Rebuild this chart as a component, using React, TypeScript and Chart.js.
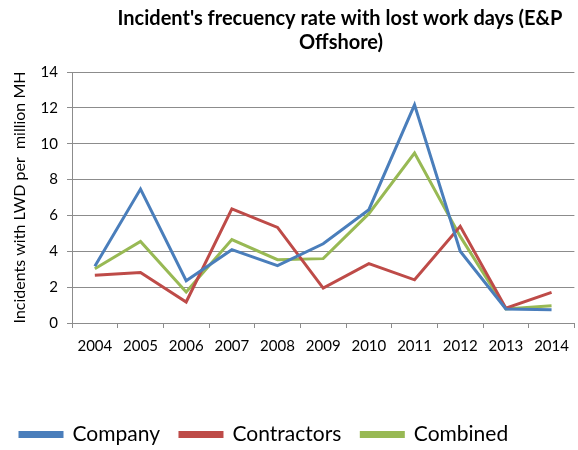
import React, { useEffect, useRef } from "react";
import { Chart, registerables } from "chart.js";

Chart.register(...registerables);

const years = ["2004", "2005", "2006", "2007", "2008", "2009", "2010", "2011", "2012", "2013", "2014"];
const company = [3.16, 7.47, 2.36, 4.09, 3.2, 4.42, 6.32, 12.17, 4.0, 0.78, 0.74];
const contractors = [2.66, 2.82, 1.17, 6.37, 5.33, 1.95, 3.31, 2.41, 5.39, 0.83, 1.71];
const combined = [3.03, 4.55, 1.73, 4.65, 3.53, 3.59, 6.1, 9.48, 4.83, 0.78, 0.96];
const titleLines = ["Incident's frecuency rate with lost work days (E&P", "Offshore)"];
const yTitle = "Incidents with LWD per  million MH";

const FONT = "Lato, 'Open Sans', sans-serif";
const GRID = "#8c8c8c";

const titlePlugin = {
  id: "customTitle",
  afterDraw(chart: any) {
    const ctx = chart.ctx;
    ctx.save();
    ctx.font = `bold 20px ${FONT}`;
    ctx.fillStyle = "#000";
    ctx.textAlign = "center";
    ctx.textBaseline = "middle";
    ctx.fillText(titleLines[0], 340, 19);
    ctx.fillText(titleLines[1], 341, 43);
    ctx.restore();
  },
};

export default function App() {
  const ref = useRef<HTMLCanvasElement>(null);
  useEffect(() => {
    const mk = (label: string, data: number[], color: string) => ({
      label,
      data,
      borderColor: color,
      backgroundColor: color,
      borderWidth: 3,
      pointRadius: 0,
      tension: 0,
    });
    const chart = new Chart(ref.current!, {
      type: "line",
      data: {
        labels: years,
        datasets: [
          mk("Company", company, "#4A7EBB"),
          mk("Contractors", contractors, "#BE4B48"),
          mk("Combined", combined, "#98B954"),
        ],
      },
      options: {
        animation: false,
        responsive: false,
        layout: { padding: { top: 72, right: 1, left: 0, bottom: -5 } },
        plugins: {
          title: { display: false },
          tooltip: { enabled: false },
          legend: {
            position: "bottom",
            align: "start",
            labels: {
              boxWidth: 42,
              boxHeight: 4,
              color: "#000",
              font: { family: FONT, size: 21 },
              padding: 20,
            },
          },
        },
        scales: {
          x: {
            offset: true,
            afterFit: (s: any) => {
              s.height = 81;
            },
            grid: { offset: true, drawOnChartArea: false, color: GRID, tickLength: 5 },
            border: { color: GRID },
            ticks: { color: "#000", font: { family: FONT, size: 15 }, maxRotation: 0, autoSkip: false, padding: 9 },
          },
          y: {
            min: 0,
            max: 14,
            afterFit: (s: any) => {
              s.width = 72;
            },
            ticks: { stepSize: 2, color: "#000", font: { family: FONT, size: 15 }, padding: 9 },
            grid: { display: true, drawOnChartArea: true, color: GRID, lineWidth: 1, tickLength: 5 },
            border: { color: GRID },
            title: { display: true, text: yTitle, color: "#000", font: { family: FONT, size: 16 }, padding: 10 },
          },
        },
      },
      plugins: [titlePlugin],
    });
    return () => chart.destroy();
  }, []);
  return (
    <div style={{ position: "fixed", left: 0, top: 0, width: 578, height: 450, background: "#fff" }}>
      <canvas ref={ref} width={578} height={450} />
    </div>
  );
}
